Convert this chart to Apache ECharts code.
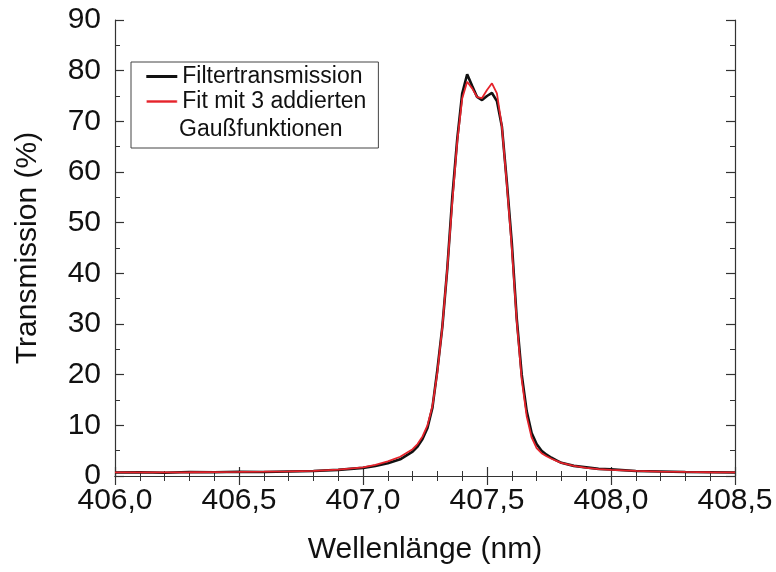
<!DOCTYPE html>
<html>
<head>
<meta charset="utf-8">
<script src="https://cdn.jsdelivr.net/npm/echarts@6/dist/echarts.min.js"></script>
<style>html,body{margin:0;padding:0;background:#fff}#c{width:776px;height:572px}</style>
</head>
<body>
<div id="c"></div>
<script>
// Wavelength in nm
const wavelength = [406.00,406.10,406.20,406.30,406.40,406.50,406.60,406.70,406.80,406.90,
  407.00,407.05,407.10,407.15,407.20,407.22,407.24,407.26,407.28,407.30,407.32,407.34,407.36,407.38,
  407.40,407.42,407.44,407.46,407.48,407.50,407.52,407.54,407.56,407.58,407.60,407.62,407.64,407.66,
  407.68,407.70,407.72,407.74,407.76,407.78,407.80,407.85,407.90,407.95,408.00,408.10,408.20,408.30,408.40,408.50];
// Measured filter transmission (%)
const transmission = [0.7,0.75,0.65,0.8,0.75,0.85,0.8,0.9,1.0,1.2,
  1.6,2.0,2.5,3.3,4.8,5.8,7.3,9.5,13.5,21.0,29.5,41.0,55.0,66.5,
  75.5,79.3,77.0,74.8,74.2,75.0,75.6,74.0,69.0,58.0,46.0,31.0,20.0,12.8,
  8.5,6.3,5.0,4.2,3.6,3.1,2.6,2.0,1.7,1.4,1.3,1.0,0.9,0.8,0.75,0.7];
// Fit with 3 summed Gaussians (%)
const fit = [0.7,0.7,0.72,0.74,0.77,0.8,0.85,0.92,1.02,1.25,
  1.7,2.2,2.9,3.8,5.3,6.3,7.8,10.0,13.8,20.5,29.5,41.0,54.0,66.0,
  74.5,77.8,76.5,74.8,74.6,76.2,77.5,75.5,69.0,57.5,45.0,30.5,19.0,11.8,
  7.6,5.5,4.5,3.9,3.4,3.0,2.6,2.0,1.6,1.35,1.2,1.0,0.88,0.8,0.74,0.7];
const seriesNames = ['Filtertransmission', 'Fit mit 3 addierten'];
const legendExtra = 'Gaußfunktionen';
const xTitle = 'Wellenlänge (nm)';
const yTitle = 'Transmission (%)';

const chart = echarts.init(document.getElementById('c'), null, {renderer: 'canvas'});
const font = 'Liberation Sans, Arial, sans-serif';
const axisCol = '#333';
const black = '#111';
const red = '#e5232b';
const fmtX = v => v.toFixed(1).replace('.', ',');
const baseX = {
  type: 'value', min: 406, max: 408.5, interval: 0.5,
  axisLine: {show: true, lineStyle: {color: axisCol, width: 1.2}},
  axisTick: {show: true, inside: true, length: 9, lineStyle: {color: axisCol, width: 1.2}},
  minorTick: {show: true, splitNumber: 5, length: 5, lineStyle: {color: axisCol, width: 1}},
  splitLine: {show: false}
};
const baseY = {
  type: 'value', min: 0, max: 90, interval: 10,
  axisLine: {show: true, lineStyle: {color: axisCol, width: 1.2}},
  axisTick: {show: true, inside: true, length: 9, lineStyle: {color: axisCol, width: 1.2}},
  minorTick: {show: true, splitNumber: 2, length: 5, lineStyle: {color: axisCol, width: 1}},
  splitLine: {show: false}
};
chart.setOption({
  animation: false,
  backgroundColor: '#fff',
  grid: {left: 115, right: 41, top: 20, bottom: 96},
  legend: {
    left: 131, top: 62,
    orient: 'vertical',
    data: [
      {name: seriesNames[0], icon: 'rect', itemStyle: {color: black, borderWidth: 0}},
      {name: seriesNames[1], icon: 'rect', itemStyle: {color: red, borderColor: '#fff', borderWidth: 0.6}}
    ],
    itemWidth: 31, itemHeight: 3, itemGap: 2,
    padding: [3, 12, 35, 15],
    borderColor: '#444', borderWidth: 1,
    textStyle: {fontFamily: font, fontSize: 23, color: '#111'}
  },
  graphic: [{
    type: 'text', left: 179, top: 118,
    style: {text: legendExtra, font: '23px ' + font, fill: '#111'}
  }],
  xAxis: [
    Object.assign({}, baseX, {
      position: 'bottom',
      name: xTitle, nameLocation: 'middle', nameGap: 59,
      nameTextStyle: {fontFamily: font, fontSize: 30, color: '#111'},
      axisLabel: {show: true, margin: 10, fontFamily: font, fontSize: 30, color: '#111', formatter: fmtX}
    }),
    Object.assign({}, baseX, {position: 'top', axisLabel: {show: false}})
  ],
  yAxis: [
    Object.assign({}, baseY, {
      position: 'left',
      name: yTitle, nameLocation: 'middle', nameGap: 72,
      nameTextStyle: {fontFamily: font, fontSize: 30, color: '#111'},
      axisLabel: {show: true, margin: 14, fontFamily: font, fontSize: 30, color: '#111'}
    }),
    Object.assign({}, baseY, {position: 'right', axisLabel: {show: false}})
  ],
  series: [
    {
      name: seriesNames[0], type: 'line', showSymbol: false, symbol: 'none',
      lineStyle: {color: black, width: 2.6}, itemStyle: {color: black},
      data: wavelength.map((w, i) => [w, transmission[i]]), z: 2
    },
    {
      name: seriesNames[1], type: 'line', showSymbol: false, symbol: 'none',
      lineStyle: {color: red, width: 1.8}, itemStyle: {color: red},
      data: wavelength.map((w, i) => [w, fit[i]]), z: 3
    }
  ]
});
</script>
</body>
</html>
